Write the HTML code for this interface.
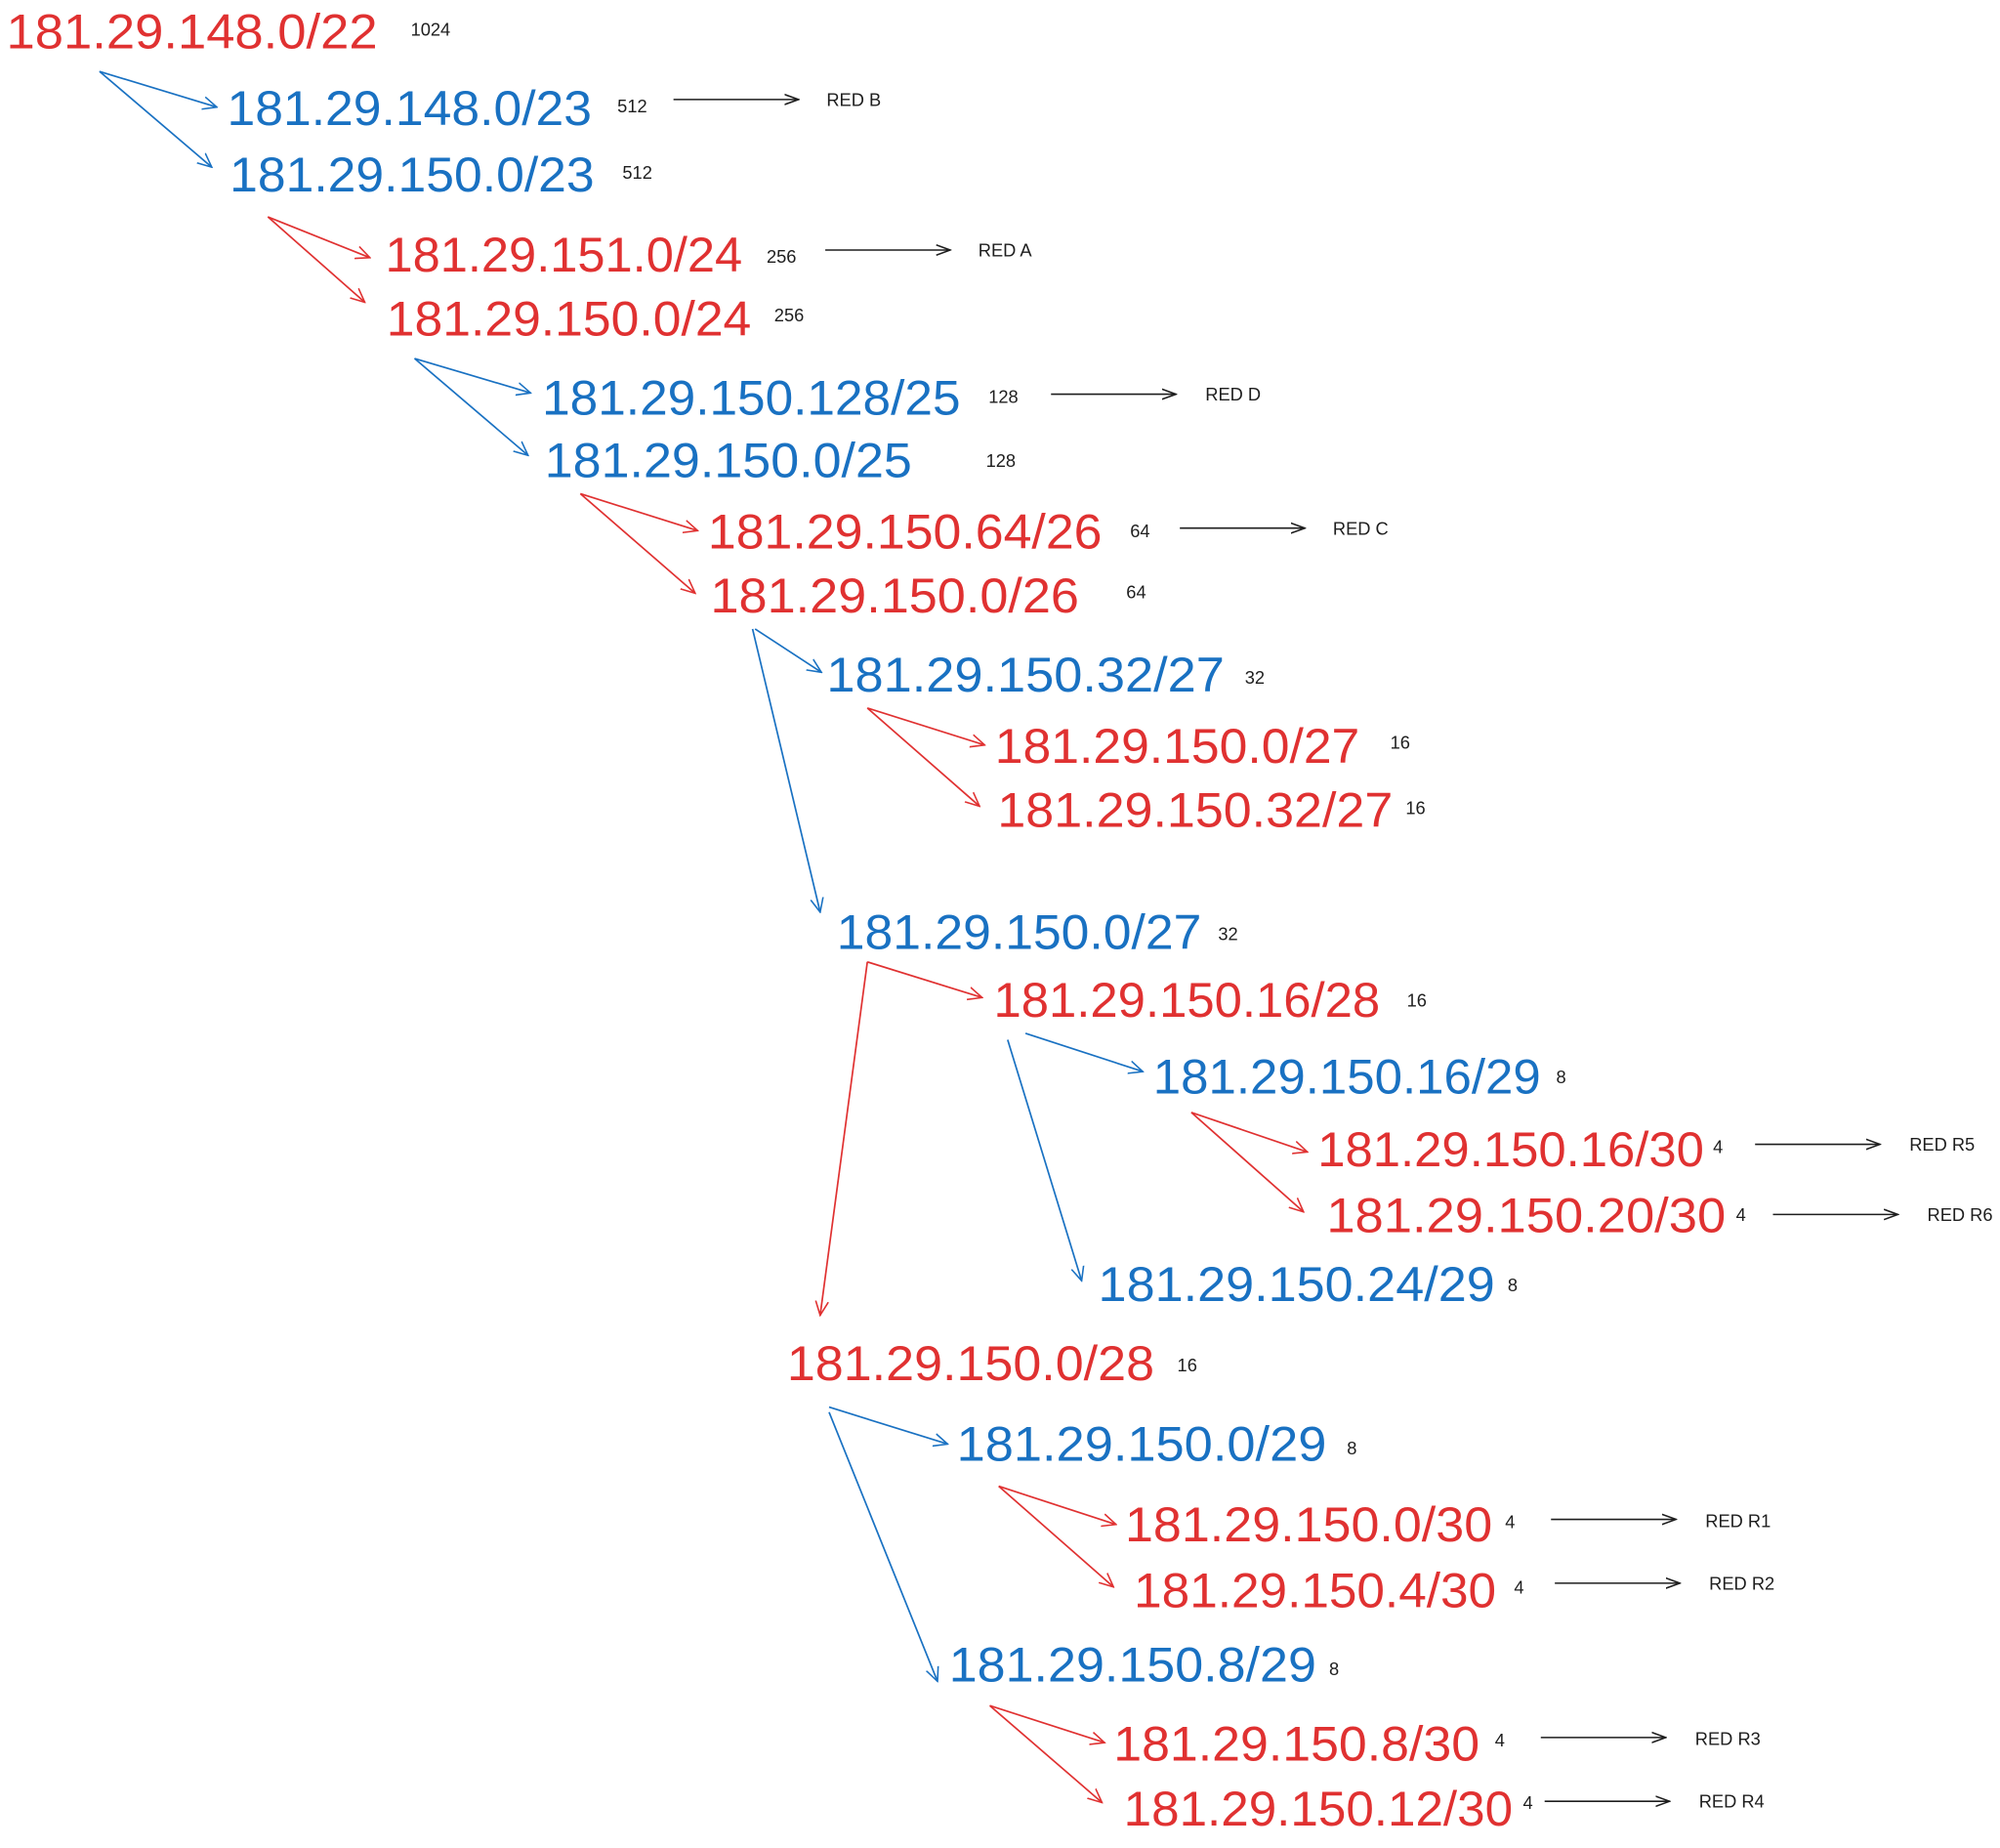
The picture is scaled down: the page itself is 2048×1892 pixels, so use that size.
<!DOCTYPE html>
<html><head><meta charset="utf-8"><style>
html,body{margin:0;padding:0;background:#fff;}
svg{display:block;}
.r{fill:#e03131;}
.b{fill:#1971c2;}
.big{font-family:"Liberation Sans",sans-serif;font-size:38px;}
.s{font-family:"Liberation Sans",sans-serif;font-size:14px;fill:#1e1e1e;}
</style></head><body>
<svg width="2048" height="1892" viewBox="0 0 1568 1448.6" xmlns="http://www.w3.org/2000/svg">
<defs>
<marker id="ar" viewBox="0 0 12 12" refX="11" refY="6" markerWidth="12" markerHeight="12" markerUnits="userSpaceOnUse" orient="auto"><path d="M0,1 L11,6 L0,11" fill="none" stroke="#e03131" stroke-width="1.2"/></marker>
<marker id="ab" viewBox="0 0 12 12" refX="11" refY="6" markerWidth="12" markerHeight="12" markerUnits="userSpaceOnUse" orient="auto"><path d="M0,1 L11,6 L0,11" fill="none" stroke="#1971c2" stroke-width="1.2"/></marker>
<marker id="ak" viewBox="0 0 12 12" refX="11" refY="6" markerWidth="12" markerHeight="12" markerUnits="userSpaceOnUse" orient="auto"><path d="M0,2 L11,6 L0,10" fill="none" stroke="#1e1e1e" stroke-width="1.2"/></marker>
</defs>
<g class="big">
<text class="r" x="5" y="38" textLength="291" lengthAdjust="spacingAndGlyphs">181.29.148.0/22</text>
<text class="b" x="178" y="98" textLength="286" lengthAdjust="spacingAndGlyphs">181.29.148.0/23</text>
<text class="b" x="180" y="150" textLength="286" lengthAdjust="spacingAndGlyphs">181.29.150.0/23</text>
<text class="r" x="302" y="213" textLength="280" lengthAdjust="spacingAndGlyphs">181.29.151.0/24</text>
<text class="r" x="303" y="263" textLength="286" lengthAdjust="spacingAndGlyphs">181.29.150.0/24</text>
<text class="b" x="425" y="325" textLength="328" lengthAdjust="spacingAndGlyphs">181.29.150.128/25</text>
<text class="b" x="427" y="374" textLength="288" lengthAdjust="spacingAndGlyphs">181.29.150.0/25</text>
<text class="r" x="555" y="430" textLength="309" lengthAdjust="spacingAndGlyphs">181.29.150.64/26</text>
<text class="r" x="557" y="480" textLength="289" lengthAdjust="spacingAndGlyphs">181.29.150.0/26</text>
<text class="b" x="648" y="542" textLength="312" lengthAdjust="spacingAndGlyphs">181.29.150.32/27</text>
<text class="r" x="780" y="598" textLength="286" lengthAdjust="spacingAndGlyphs">181.29.150.0/27</text>
<text class="r" x="782" y="648" textLength="310" lengthAdjust="spacingAndGlyphs">181.29.150.32/27</text>
<text class="b" x="656" y="744" textLength="286" lengthAdjust="spacingAndGlyphs">181.29.150.0/27</text>
<text class="r" x="779" y="797" textLength="303" lengthAdjust="spacingAndGlyphs">181.29.150.16/28</text>
<text class="b" x="904" y="857" textLength="304" lengthAdjust="spacingAndGlyphs">181.29.150.16/29</text>
<text class="r" x="1033" y="914" textLength="303" lengthAdjust="spacingAndGlyphs">181.29.150.16/30</text>
<text class="r" x="1040" y="966" textLength="313" lengthAdjust="spacingAndGlyphs">181.29.150.20/30</text>
<text class="b" x="861" y="1020" textLength="311" lengthAdjust="spacingAndGlyphs">181.29.150.24/29</text>
<text class="r" x="617" y="1082" textLength="288" lengthAdjust="spacingAndGlyphs">181.29.150.0/28</text>
<text class="b" x="750" y="1145" textLength="290" lengthAdjust="spacingAndGlyphs">181.29.150.0/29</text>
<text class="r" x="882" y="1208" textLength="288" lengthAdjust="spacingAndGlyphs">181.29.150.0/30</text>
<text class="r" x="889" y="1260" textLength="284" lengthAdjust="spacingAndGlyphs">181.29.150.4/30</text>
<text class="b" x="744" y="1318" textLength="288" lengthAdjust="spacingAndGlyphs">181.29.150.8/29</text>
<text class="r" x="873" y="1380" textLength="287" lengthAdjust="spacingAndGlyphs">181.29.150.8/30</text>
<text class="r" x="881" y="1431" textLength="305" lengthAdjust="spacingAndGlyphs">181.29.150.12/30</text>
</g>
<g class="s">
<text x="322" y="28">1024</text>
<text x="484" y="88">512</text>
<text x="488" y="140">512</text>
<text x="601" y="206">256</text>
<text x="607" y="252">256</text>
<text x="775" y="316">128</text>
<text x="773" y="366">128</text>
<text x="886" y="421">64</text>
<text x="883" y="469">64</text>
<text x="976" y="536">32</text>
<text x="1090" y="587">16</text>
<text x="1102" y="638">16</text>
<text x="955" y="737">32</text>
<text x="1103" y="789">16</text>
<text x="1220" y="849">8</text>
<text x="1343" y="904">4</text>
<text x="1361" y="957">4</text>
<text x="1182" y="1012">8</text>
<text x="923" y="1075">16</text>
<text x="1056" y="1140">8</text>
<text x="1180" y="1198">4</text>
<text x="1187" y="1249">4</text>
<text x="1042" y="1313">8</text>
<text x="1172" y="1369">4</text>
<text x="1194" y="1418">4</text>
<text x="648" y="83">RED B</text>
<text x="767" y="201">RED A</text>
<text x="945" y="314">RED D</text>
<text x="1045" y="419">RED C</text>
<text x="1497" y="902">RED R5</text>
<text x="1511" y="957">RED R6</text>
<text x="1337" y="1197">RED R1</text>
<text x="1340" y="1246">RED R2</text>
<text x="1329" y="1368">RED R3</text>
<text x="1332" y="1417">RED R4</text>
</g>
<g stroke="#1e1e1e" stroke-width="1.2" marker-end="url(#ak)">
<line x1="528" y1="78" x2="626" y2="78"/>
<line x1="647" y1="196" x2="745" y2="196"/>
<line x1="824" y1="309" x2="922" y2="309"/>
<line x1="925" y1="414" x2="1023" y2="414"/>
<line x1="1376" y1="897" x2="1474" y2="897"/>
<line x1="1390" y1="952" x2="1488" y2="952"/>
<line x1="1216" y1="1191" x2="1314" y2="1191"/>
<line x1="1219" y1="1241" x2="1317" y2="1241"/>
<line x1="1208" y1="1362" x2="1306" y2="1362"/>
<line x1="1211" y1="1412" x2="1309" y2="1412"/>
</g>
<g stroke="#1971c2" stroke-width="1.3" marker-end="url(#ab)" fill="none">
<line x1="78" y1="56" x2="170" y2="84"/>
<line x1="78" y1="56" x2="166" y2="131"/>
<line x1="325" y1="281" x2="416" y2="308"/>
<line x1="325" y1="281" x2="414" y2="357"/>
<line x1="592" y1="493" x2="644" y2="527"/>
<line x1="590" y1="493" x2="643" y2="715"/>
<line x1="804" y1="810" x2="896" y2="840"/>
<line x1="790" y1="815" x2="848" y2="1004"/>
<line x1="650" y1="1103" x2="743" y2="1132"/>
<line x1="650" y1="1107" x2="735" y2="1318"/>
</g>
<g stroke="#e03131" stroke-width="1.3" marker-end="url(#ar)" fill="none">
<line x1="210" y1="170" x2="290" y2="202"/>
<line x1="210" y1="170" x2="286" y2="237"/>
<line x1="455" y1="387" x2="547" y2="416"/>
<line x1="455" y1="387" x2="545" y2="465"/>
<line x1="680" y1="555" x2="772" y2="584"/>
<line x1="680" y1="555" x2="768" y2="632"/>
<line x1="680" y1="754" x2="770" y2="782"/>
<line x1="680" y1="754" x2="643" y2="1031"/>
<line x1="934" y1="872" x2="1025" y2="903"/>
<line x1="934" y1="872" x2="1022" y2="950"/>
<line x1="783" y1="1165" x2="875" y2="1195"/>
<line x1="783" y1="1165" x2="873" y2="1244"/>
<line x1="776" y1="1337" x2="866" y2="1366"/>
<line x1="776" y1="1337" x2="864" y2="1413"/>
</g>
</svg>
</body></html>
